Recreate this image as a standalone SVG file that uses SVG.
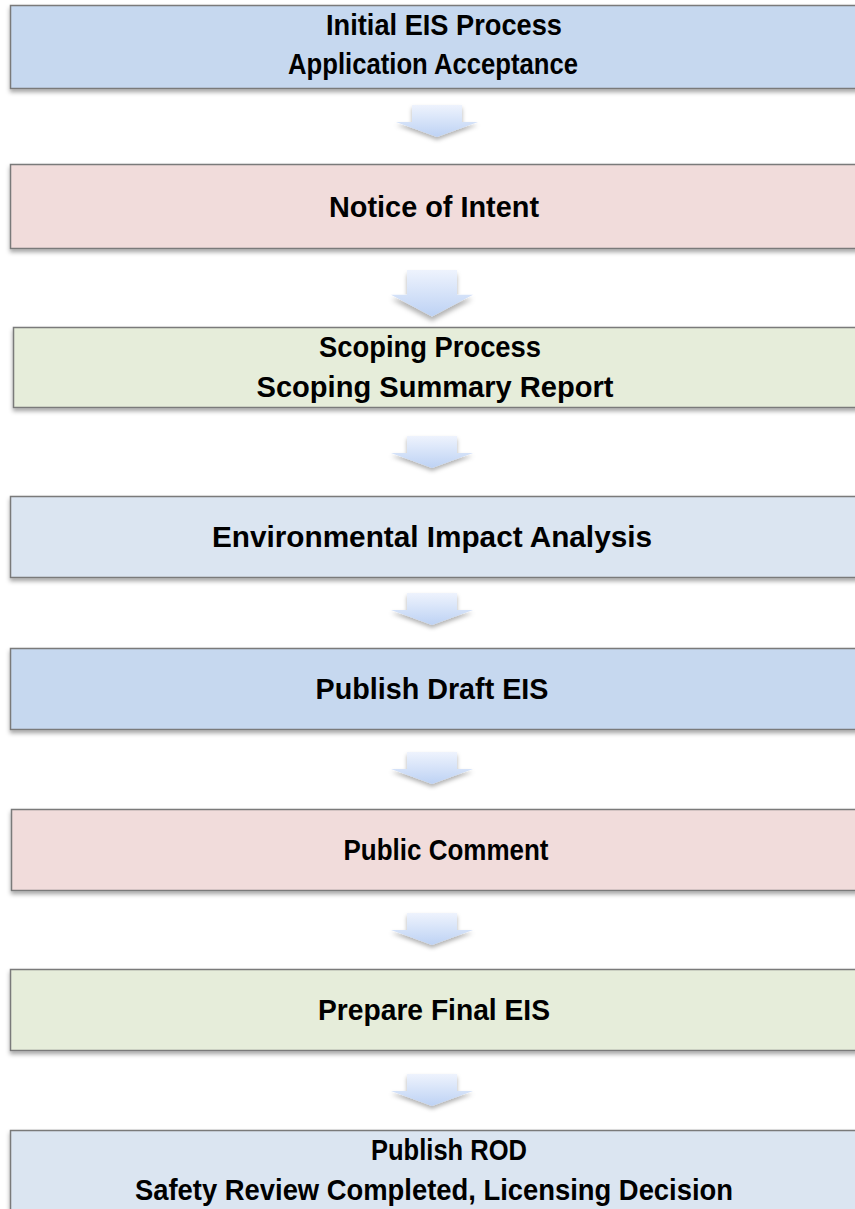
<svg xmlns="http://www.w3.org/2000/svg" width="855" height="1209" viewBox="0 0 855 1209">
<defs>
<style>
.box{stroke:#7a7a7a;stroke-width:1.5}
.b1{fill:#c6d8ef}.b2{fill:#f1dcdb}.b3{fill:#e6edda}.b4{fill:#dbe5f1}
.t{font-family:"Liberation Sans",Arial,sans-serif;font-weight:bold;font-size:30px;fill:#000;text-anchor:middle}
.arr{fill:url(#ag)}
</style>
<linearGradient id="ag" x1="0" y1="0" x2="0" y2="1">
<stop offset="0" stop-color="#eef3fd"/>
<stop offset="1" stop-color="#bdd2f4"/>
</linearGradient>
<filter id="sh" x="-5%" y="-20%" width="110%" height="150%">
<feDropShadow dx="0" dy="3" stdDeviation="2" flood-color="#000" flood-opacity="0.35"/>
</filter>
<filter id="ash" x="-30%" y="-30%" width="160%" height="180%">
<feDropShadow dx="0" dy="3" stdDeviation="2" flood-color="#000" flood-opacity="0.3"/>
</filter>
<path id="arrow" d="M -25 0 L 25 0 L 25 17 L 41 17 L 0 32 L -41 17 L -25 17 Z"/>
</defs>
<g id="connectors">
<use href="#arrow" class="arr" filter="url(#ash)" x="437" y="105"/>
<use href="#arrow" class="arr" filter="url(#ash)" transform="translate(432,270) scale(1,1.45)"/>
<use href="#arrow" class="arr" filter="url(#ash)" x="432" y="436"/>
<use href="#arrow" class="arr" filter="url(#ash)" x="432" y="593"/>
<use href="#arrow" class="arr" filter="url(#ash)" x="432" y="752"/>
<use href="#arrow" class="arr" filter="url(#ash)" x="432" y="913"/>
<use href="#arrow" class="arr" filter="url(#ash)" x="432" y="1074"/>
</g>
<g id="n1"><rect class="box b1" filter="url(#sh)" x="10.5" y="5.5" width="860" height="83"/>
<text class="t" x="444" y="35" textLength="236" lengthAdjust="spacingAndGlyphs">Initial EIS Process</text><text class="t" x="433" y="74" textLength="290" lengthAdjust="spacingAndGlyphs">Application Acceptance</text></g>
<g id="n2"><rect class="box b2" filter="url(#sh)" x="10.5" y="164.5" width="860" height="84"/>
<text class="t" x="434" y="217" textLength="210" lengthAdjust="spacingAndGlyphs">Notice of Intent</text></g>
<g id="n3"><rect class="box b3" filter="url(#sh)" x="13.5" y="327.5" width="860" height="80"/>
<text class="t" x="430" y="357" textLength="222" lengthAdjust="spacingAndGlyphs">Scoping Process</text><text class="t" x="435" y="397" textLength="357" lengthAdjust="spacingAndGlyphs">Scoping Summary Report</text></g>
<g id="n4"><rect class="box b4" filter="url(#sh)" x="10.5" y="496.5" width="860" height="81"/>
<text class="t" x="432" y="547" textLength="440" lengthAdjust="spacingAndGlyphs">Environmental  Impact Analysis</text></g>
<g id="n5"><rect class="box b1" filter="url(#sh)" x="10.5" y="648.5" width="860" height="81"/>
<text class="t" x="432" y="699" textLength="233" lengthAdjust="spacingAndGlyphs">Publish Draft EIS</text></g>
<g id="n6"><rect class="box b2" filter="url(#sh)" x="11.5" y="809.5" width="860" height="81"/>
<text class="t" x="446" y="860" textLength="205" lengthAdjust="spacingAndGlyphs">Public Comment</text></g>
<g id="n7"><rect class="box b3" filter="url(#sh)" x="10.5" y="969.5" width="860" height="81"/>
<text class="t" x="434" y="1020" textLength="232" lengthAdjust="spacingAndGlyphs">Prepare Final EIS</text></g>
<g id="n8"><rect class="box b4" filter="url(#sh)" x="10.5" y="1130.5" width="860" height="100"/>
<text class="t" x="449" y="1160" textLength="156" lengthAdjust="spacingAndGlyphs">Publish ROD</text><text class="t" x="434" y="1200" textLength="598" lengthAdjust="spacingAndGlyphs">Safety Review Completed, Licensing Decision</text></g>
</svg>
